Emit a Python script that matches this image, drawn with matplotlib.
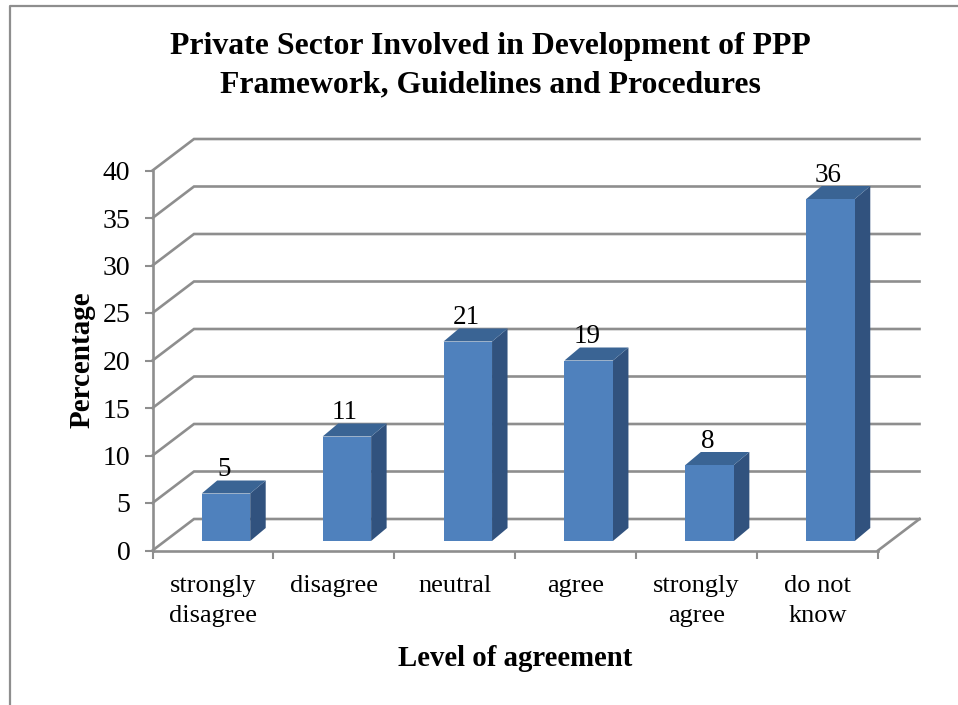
import matplotlib
matplotlib.use("Agg")
import matplotlib.pyplot as plt
from matplotlib.patches import Polygon
from matplotlib.lines import Line2D

categories = ["strongly\ndisagree", "disagree", "neutral", "agree", "strongly\nagree", "do not\nknow"]
values = [5, 11, 21, 19, 8, 36]
y_ticks = [0, 5, 10, 15, 20, 25, 30, 35, 40]

W, H = 958, 705
plt.rcParams["font.family"] = ["Liberation Serif", "DejaVu Serif"]
fig = plt.figure(figsize=(W / 100, H / 100), dpi=100, facecolor="white")

# axes box in pixels (front plane of the pseudo-3D chart)
x0, x1, y0, y40 = 152.5, 878.0, 550.5, 170.5
ax = fig.add_axes([x0 / W, 1 - y0 / H, (x1 - x0) / W, (y0 - y40) / H])
ax.set_xlim(0, 6)
ax.set_ylim(0, 40)
ax.patch.set_alpha(0)

px = 6 / (x1 - x0)
py = 40 / (y0 - y40)
wall_dx, wall_dy = 41.5 * px, 31.5 * py
bar_dx, bar_dy = 15.5 * px, 13 * py
bar_w = 48.5 * px
bar_off_x, bar_floor = 49.2 * px, 9.5 * py

GRID = "#8E8E8E"
LW = 1.9
for v in y_ticks:
    ax.plot([0, wall_dx, 6 + wall_dx], [v, v + wall_dy, v + wall_dy],
            color=GRID, lw=LW, clip_on=False, zorder=1, solid_joinstyle="miter")
ax.plot([6 + wall_dx, 6], [wall_dy, 0], color=GRID, lw=LW, clip_on=False, zorder=1)

for i, v in enumerate(values):
    l = i + bar_off_x
    r = l + bar_w
    b = bar_floor  # front face sits on the floor, slightly behind the front edge
    top = v + bar_floor
    ax.add_patch(Polygon([(r, b), (r + bar_dx, b + bar_dy), (r + bar_dx, top + bar_dy), (r, top)],
                         closed=True, fc="#31527E", ec="none", clip_on=False, zorder=3))
    ax.add_patch(Polygon([(l, top), (r, top), (r + bar_dx, top + bar_dy), (l + bar_dx, top + bar_dy)],
                         closed=True, fc="#3A6494", ec="none", clip_on=False, zorder=3))
    ax.bar(l, v, width=bar_w, bottom=b, align="edge", color="#4F81BD", zorder=4, clip_on=False)
    ax.annotate(str(v), (l + bar_w / 2, top + bar_dy), xytext=(-1.4, -1.4),
                textcoords="offset points", ha="center", va="bottom",
                fontsize=19.5, color="black", zorder=5, annotation_clip=False)

for s in ["top", "right"]:
    ax.spines[s].set_visible(False)
for s in ["left", "bottom"]:
    ax.spines[s].set_color(GRID)
    ax.spines[s].set_linewidth(LW)
    ax.spines[s].set_zorder(2)

ax.set_yticks(y_ticks)
ax.set_xticks(range(7))
ax.set_xticklabels([""] * 7)
ax.set_xticks([i + 0.5 for i in range(6)], categories, minor=True, fontsize=19, linespacing=1.5)
ax.tick_params(axis="x", which="minor", length=0, pad=17.5)
ax.tick_params(axis="both", which="major", length=5.5, width=1.5, color=GRID)
ax.tick_params(axis="y", labelsize=20, pad=10.5)

fig.text(490 / W, 1 - 65.5 / H,
         "Private Sector Involved in Development of PPP\nFramework, Guidelines and Procedures",
         ha="center", va="center", fontsize=22.9, fontweight="bold", linespacing=1.42)
fig.text(82 / W, 1 - 360 / H, "Percentage", rotation=90, ha="center", va="center",
         fontsize=21, fontweight="bold")
fig.text(515 / W, 1 - 658 / H, "Level of agreement", ha="center", va="center",
         fontsize=20.7, fontweight="bold")

# chart-area border (cropped at the right and bottom of the picture)
fig.add_artist(Line2D([9.5 / W, 9.5 / W, 1], [0, 1 - 6 / H, 1 - 6 / H],
                      color="#8E8E8E", lw=1.6))
fig.savefig("out.png", dpi=100)
